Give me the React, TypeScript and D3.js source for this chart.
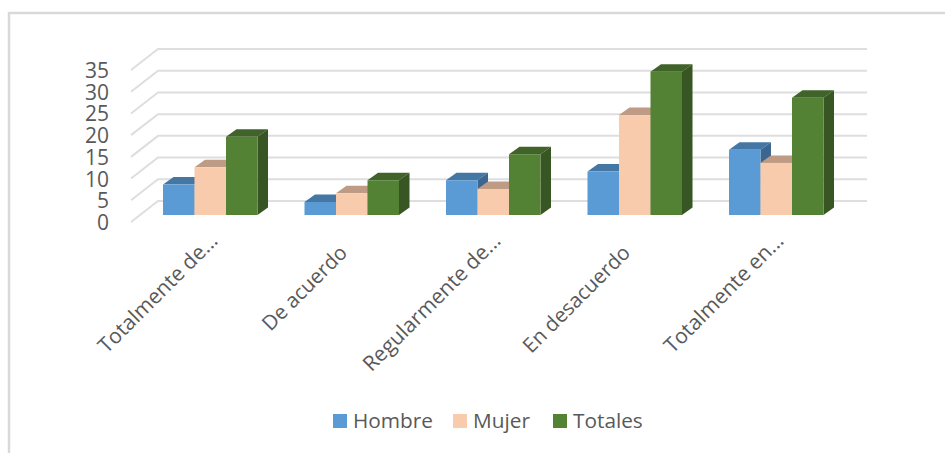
import React from "react";
import * as d3 from "d3";

const categories = ["Totalmente de...", "De acuerdo", "Regularmente de...", "En desacuerdo", "Totalmente en..."];
const hombre = [7, 3, 8, 10, 15];
const mujer = [11, 5, 6, 23, 12];
const totales = [18, 8, 14, 33, 27];
const ticks = [0, 5, 10, 15, 20, 25, 30, 35];
const seriesNames = ["Hombre", "Mujer", "Totales"];
const seriesValues = [hombre, mujer, totales];
const front = ["#5B9BD5", "#F8CBAD", "#548235"];
const topC = ["#4577A5", "#BE9B84", "#406329"];
const side = ["#3A6690", "#A88A75", "#375623"];
const grid = "#DEDEDE";
const text = "#595959";
const font = "Open Sans, sans-serif";

export default function App() {
  const w = 945, h = 453;
  const dx = 10.5, dy = -7.5;
  const y = d3.scaleLinear().domain([0, 35]).range([215, 63]);
  const group = d3.scaleBand().domain(categories).range([139.5, 847]).paddingInner(0).paddingOuter(0);
  const barW = 31.5;
  const groupOffset = (group.bandwidth() - barW * 3) / 2;
  return (
    <svg width={w} height={h} style={{ position: "absolute", left: 0, top: 0, background: "#fff" }}>
      <path d="M9 453V13H945" fill="none" stroke="#D9D9D9" strokeWidth={2.5} />
      {ticks.map((t) => {
        const yy = y(t);
        return (
          <path key={t} d={`M131 ${yy + 7}L158 ${yy - 14}H867`} fill="none" stroke={grid} strokeWidth={2} />
        );
      })}
      {ticks.map((t) => (
        <text key={t} x={109} y={y(t) + 15} textAnchor="end" fontFamily={font} fontSize={21} fill={text}>{t}</text>
      ))}
      {categories.map((c, ci) => {
        const x0 = (group(c) as number) + groupOffset;
        const truncated = c.endsWith("...");
        return (
          <g key={c}>
            {seriesValues.map((vals, si) => {
              const x = x0 + si * barW;
              const top = y(vals[ci]);
              const bottom = y(0);
              return (
                <g key={si}>
                  <path d={`M${x} ${top}l${dx} ${dy}h${barW}l${-dx} ${-dy}z`} fill={topC[si]} />
                  <path d={`M${x + barW} ${top}l${dx} ${dy}V${bottom + dy}l${-dx} ${-dy}z`} fill={side[si]} />
                  <rect x={x} y={top} width={barW} height={bottom - top} fill={front[si]} />
                </g>
              );
            })}
            <text
              transform={`translate(${x0 + (truncated ? 56 : 44)},${truncated ? 242 : 254}) rotate(-45)`}
              textAnchor="end"
              fontFamily={font}
              fontSize={truncated ? 21 : 20.5}
              fill={text}
            >{c}</text>
          </g>
        );
      })}
      {seriesNames.map((n, i) => {
        const xs = [333, 453, 553];
        return (
          <g key={n}>
            <rect x={xs[i]} y={414} width={14} height={14} fill={front[i]} />
            <text x={xs[i] + 20} y={428} fontFamily={font} fontSize={20.8} fill={text}>{n}</text>
          </g>
        );
      })}
    </svg>
  );
}
